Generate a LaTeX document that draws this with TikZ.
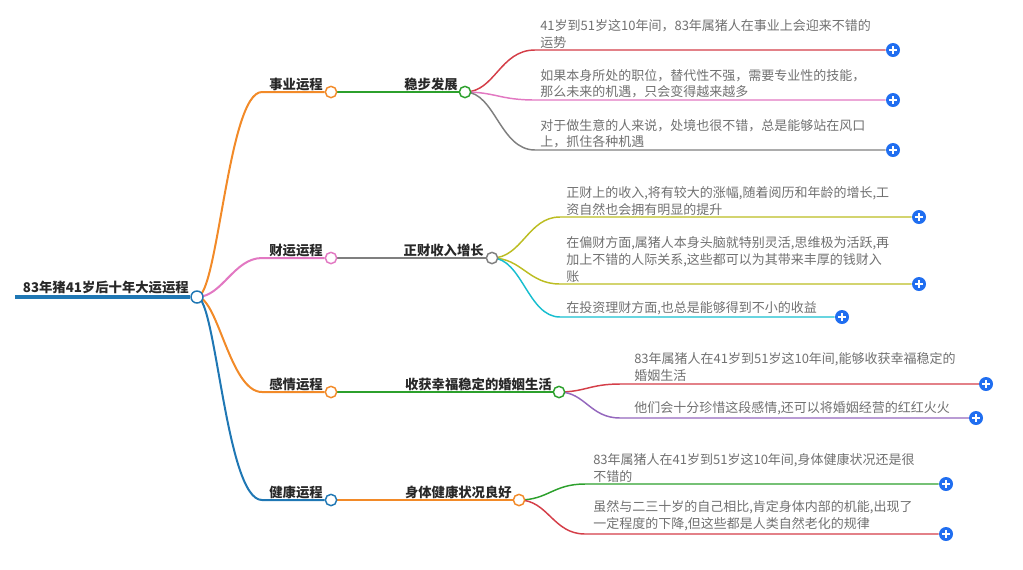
\documentclass[tikz,border=0pt]{standalone}
\usepackage{fontspec}
\setmainfont{Noto Sans CJK SC}
\usetikzlibrary{backgrounds}
\definecolor{cOrange}{RGB}{242,138,40}
\definecolor{cPink}{RGB}{226,120,194}
\definecolor{cBlue}{RGB}{31,119,180}
\definecolor{cGreen}{RGB}{44,160,44}
\definecolor{cGray}{RGB}{127,127,127}
\definecolor{cRed}{RGB}{212,62,72}
\definecolor{cOlive}{RGB}{188,189,34}
\definecolor{cCyan}{RGB}{23,190,207}
\definecolor{cPurple}{RGB}{148,103,189}
\definecolor{cPlus}{RGB}{32,110,240}
\definecolor{cLabel}{RGB}{40,40,40}
\definecolor{cLeaf}{RGB}{112,112,112}
\begin{document}
\begin{tikzpicture}[x=0.75pt,y=-0.75pt,
  dot/.style={circle,draw=#1,fill=white,line width=1.1pt,inner sep=0pt,minimum size=8.5pt},
  lbl/.style={anchor=base east,inner sep=0pt,text=cLabel,font=\fontsize{10pt}{12pt}\selectfont\bfseries},
  rootlbl/.style={anchor=base east,inner sep=0pt,text=cLabel,font=\fontsize{10pt}{12pt}\selectfont\bfseries},
  leaf/.style={anchor=south west,inner sep=0pt,align=left,text=cLeaf,font=\fontsize{9.75pt}{12.6pt}\selectfont},
  branch/.style={draw=#1,line width=1.5pt},
  twig/.style={draw=#1,line width=1.1pt},
  plus/.style={circle,fill=cPlus,minimum size=10.5pt,inner sep=0pt,
    path picture={\draw[white,line width=1.3pt]
      ([xshift=-2.8pt]path picture bounding box.center) -- ([xshift=2.8pt]path picture bounding box.center)
      ([yshift=-2.8pt]path picture bounding box.center) -- ([yshift=2.8pt]path picture bounding box.center);}}
]
\useasboundingbox (0,0) rectangle (1023,569);

% ---- circles ----
\coordinate (r0) at (15,297);
\node[dot=cBlue,minimum size=9pt] (r) at (197,297) {};
\node[dot=cOrange] (a1) at (331,92) {};
\node[dot=cPink] (a2) at (331,258) {};
\node[dot=cOrange] (a3) at (331,392) {};
\node[dot=cBlue] (a4) at (331,500) {};
\node[dot=cGreen] (b1) at (465,92) {};
\node[dot=cGray] (b2) at (492,258) {};
\node[dot=cGreen] (b3) at (559,392) {};
\node[dot=cOrange] (b4) at (519,500) {};

% ---- labels ----
\node[rootlbl] (t0) at (189,292) {83年猪41岁后十年大运运程};
\node[lbl] (ta1) at (323,89) {事业运程};
\node[lbl] (ta2) at (323,255) {财运运程};
\node[lbl] (ta3) at (323,389) {感情运程};
\node[lbl] (ta4) at (323,497) {健康运程};
\node[lbl] (tb1) at (458,89) {稳步发展};
\node[lbl] (tb2) at (484,255) {正财收入增长};
\node[lbl] (tb3) at (552,389) {收获幸福稳定的婚姻生活};
\node[lbl] (tb4) at (512,497) {身体健康状况良好};

% ---- leaves ----
\node[leaf] (l11) at (540,48.5) {41岁到51岁这10年间，83年属猪人在事业上会迎来不错的\\运势};
\node[leaf] (l12) at (540,98.5) {如果本身所处的职位，替代性不强，需要专业性的技能，\\那么未来的机遇，只会变得越来越多};
\node[leaf] (l13) at (540,148.5) {对于做生意的人来说，处境也很不错，总是能够站在风口\\上，抓住各种机遇};
\node[leaf] (l21) at (566,215.5) {正财上的收入,将有较大的涨幅,随着阅历和年龄的增长,工\\资自然也会拥有明显的提升};
\node[leaf] (l22) at (566,282.5) {在偏财方面,属猪人本身头脑就特别灵活,思维极为活跃,再\\加上不错的人际关系,这些都可以为其带来丰厚的钱财入\\账};
\node[leaf] (l23) at (566,315.5) {在投资理财方面,也总是能够得到不小的收益};
\node[leaf] (l31) at (634,381.5) {83年属猪人在41岁到51岁这10年间,能够收获幸福稳定的\\婚姻生活};
\node[leaf] (l32) at (634,415.5) {他们会十分珍惜这段感情,还可以将婚姻经营的红红火火};
\node[leaf] (l41) at (593,482.5) {83年属猪人在41岁到51岁这10年间,身体健康状况还是很\\不错的};
\node[leaf] (l42) at (593,531.5) {虽然与二三十岁的自己相比,肯定身体内部的机能,出现了\\一定程度的下降,但这些都是人类自然老化的规律};

% ---- plus buttons ----
\node[plus] (p11) at (893,50) {};
\node[plus] (p12) at (893,100) {};
\node[plus] (p13) at (893,150) {};
\node[plus] (p21) at (919,217) {};
\node[plus] (p22) at (919,284) {};
\node[plus] (p23) at (842,317) {};
\node[plus] (p31) at (986,384) {};
\node[plus] (p32) at (976,418) {};
\node[plus] (p41) at (946,484) {};
\node[plus] (p42) at (946,534) {};

% ---- curve end coordinates ----
\coordinate (h1) at (262,92);
\coordinate (h2) at (262,258);
\coordinate (h3) at (262,392);
\coordinate (h4) at (262,500);
\coordinate (c11) at (535,50);
\coordinate (c12) at (535,100);
\coordinate (c13) at (535,150);
\coordinate (c21) at (560,217);
\coordinate (c22) at (560,284);
\coordinate (c23) at (560,317);
\coordinate (c31) at (620,384);
\coordinate (c32) at (620,418);
\coordinate (c41) at (585,484);
\coordinate (c42) at (585,534);

\begin{scope}[on background layer]
  \draw[cBlue,line width=2.6pt] (r0) -- (r);
  \draw[branch=cOrange] (r.center) .. controls (218,297) and (228,92) .. (h1) -- (a1);
  \draw[branch=cPink] (r.center) .. controls (222,297) and (234,258) .. (h2) -- (a2);
  \draw[branch=cOrange] (r.center) .. controls (218,297) and (230,392) .. (h3) -- (a3);
  \draw[branch=cBlue] (r.center) .. controls (216,297) and (226,500) .. (h4) -- (a4);
  \draw[twig=cGreen] (a1) -- (b1);
  \draw[twig=cGray] (a2) -- (b2);
  \draw[twig=cGreen] (a3) -- (b3);
  \draw[twig=cOrange] (a4) -- (b4);
  \draw[twig=cRed] (b1.center) .. controls (495,92) and (500,50) .. (c11) -- (p11);
  \draw[twig=cPink] (b1.center) .. controls (495,92) and (500,100) .. (c12) -- (p12);
  \draw[twig=cGray] (b1.center) .. controls (495,92) and (500,150) .. (c13) -- (p13);
  \draw[twig=cOlive] (b2.center) .. controls (522,258) and (528,217) .. (c21) -- (p21);
  \draw[twig=cOlive] (b2.center) .. controls (522,258) and (528,284) .. (c22) -- (p22);
  \draw[twig=cCyan] (b2.center) .. controls (522,258) and (528,317) .. (c23) -- (p23);
  \draw[twig=cRed] (b3.center) .. controls (585,392) and (590,384) .. (c31) -- (p31);
  \draw[twig=cPurple] (b3.center) .. controls (585,392) and (590,418) .. (c32) -- (p32);
  \draw[twig=cGreen] (b4.center) .. controls (548,500) and (553,484) .. (c41) -- (p41);
  \draw[twig=cRed] (b4.center) .. controls (548,500) and (553,534) .. (c42) -- (p42);
\end{scope}
\end{tikzpicture}
\end{document}
